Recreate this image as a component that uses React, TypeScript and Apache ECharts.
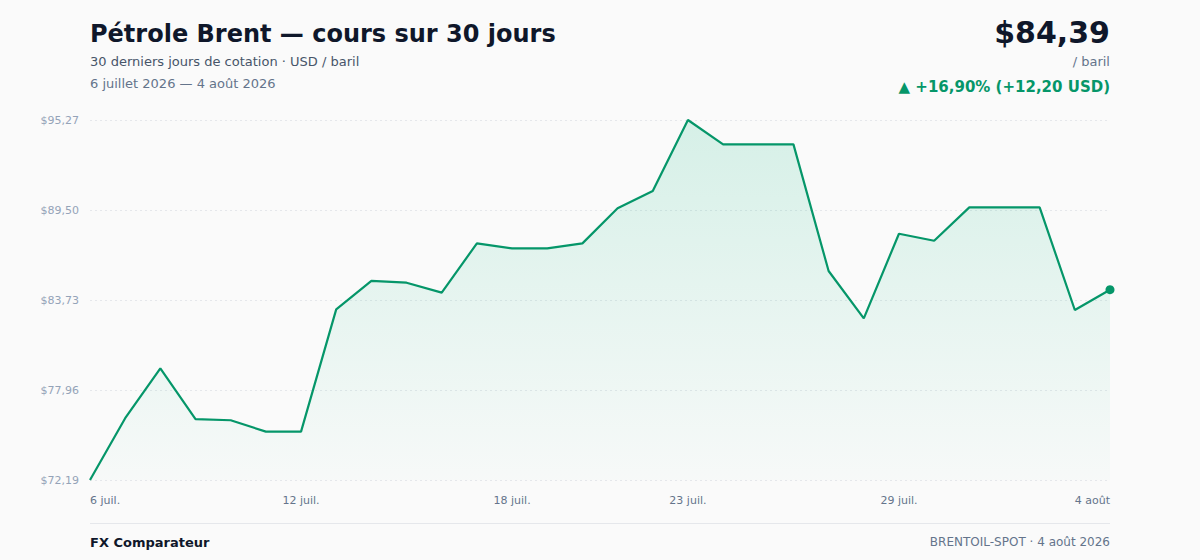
import React, { useEffect, useRef } from "react";
import * as echarts from "echarts";

const dates = [
  "6 juil.", "7 juil.", "8 juil.", "9 juil.", "10 juil.", "11 juil.", "12 juil.",
  "13 juil.", "14 juil.", "15 juil.", "16 juil.", "17 juil.", "18 juil.", "19 juil.",
  "20 juil.", "21 juil.", "22 juil.", "23 juil.", "24 juil.", "25 juil.", "26 juil.",
  "27 juil.", "28 juil.", "29 juil.", "30 juil.", "31 juil.", "1 août", "2 août",
  "3 août", "4 août",
];
const prices = [
  72.19, 76.15, 79.35, 76.09, 76.02, 75.29, 75.29, 83.13, 84.95, 84.84,
  84.2, 87.36, 87.04, 87.04, 87.36, 89.61, 90.72, 95.27, 93.71, 93.71,
  93.71, 85.59, 82.55, 87.98, 87.53, 89.67, 89.67, 89.67, 83.09, 84.39,
];
const yTicks = [72.19, 77.96, 83.73, 89.5, 95.27];
const xLabelDates = ["6 juil.", "12 juil.", "18 juil.", "23 juil.", "29 juil.", "4 août"];

const titleText = "Pétrole Brent — cours sur 30 jours";
const subtitleText = "30 derniers jours de cotation · USD / baril";
const rangeText = "6 juillet 2026 — 4 août 2026";
const priceText = "$84,39";
const unitText = "/ baril";
const changeText = "▲ +16,90% (+12,20 USD)";
const footerLeft = "FX Comparateur";
const footerRight = "BRENTOIL-SPOT · 4 août 2026";

const FONT = "'DejaVu Sans', sans-serif";
const GREEN = "#059669";
const fmtUsd = (v: number) => "$" + v.toFixed(2).replace(".", ",");

export default function App() {
  const ref = useRef<HTMLDivElement>(null);

  useEffect(() => {
    document.body.style.margin = "0";
    document.body.style.background = "#fafafa";
    if (!ref.current) return;
    const chart = echarts.init(ref.current, undefined, { renderer: "svg" });
    const last = prices.length - 1;
    const seriesData = prices.map((v, i) =>
      i === last
        ? { value: v, symbol: "circle", symbolSize: 9 }
        : { value: v, symbol: "none" }
    );
    chart.setOption({
      animation: false,
      backgroundColor: "#fafafa",
      textStyle: { fontFamily: FONT },
      grid: { left: 90, right: 90, top: 120, bottom: 80, containLabel: false },
      xAxis: {
        type: "category",
        data: dates,
        boundaryGap: false,
        axisLine: { show: false },
        axisTick: { show: false },
        splitLine: { show: false },
        axisLabel: {
          color: "#64748b",
          fontSize: 11,
          fontFamily: FONT,
          margin: 15,
          interval: (_i: number, v: string) => xLabelDates.includes(v),
          alignMinLabel: "left",
          alignMaxLabel: "right",
        },
      },
      yAxis: {
        type: "value",
        min: yTicks[0],
        max: yTicks[yTicks.length - 1],
        axisLine: { show: false },
        axisTick: { show: false, customValues: yTicks },
        axisLabel: {
          customValues: yTicks,
          color: "#94a3b8",
          fontSize: 11,
          fontFamily: FONT,
          margin: 11,
          formatter: (v: number) => fmtUsd(v),
        },
        splitLine: {
          show: true,
          lineStyle: { color: "#e5e7eb", width: 1, type: [2, 3] },
        },
      },
      series: [
        {
          type: "line",
          data: seriesData,
          showSymbol: true,
          showAllSymbol: true,
          symbol: "none",
          itemStyle: { color: GREEN },
          lineStyle: { color: GREEN, width: 2.2 },
          areaStyle: {
            color: new echarts.graphic.LinearGradient(0, 0, 0, 1, [
              { offset: 0, color: "rgba(16,185,129,0.22)" },
              { offset: 1, color: "rgba(16,185,129,0.02)" },
            ]),
          },
          z: 3,
        },
      ],
      graphic: [
        {
          type: "text", x: 90, y: 34,
          style: { text: titleText, fill: "#0f172a", font: `bold 24px ${FONT}`, textAlign: "left", textVerticalAlign: "middle" },
        },
        {
          type: "text", x: 90, y: 61,
          style: { text: subtitleText, fill: "#475569", font: `13px ${FONT}`, textAlign: "left", textVerticalAlign: "middle" },
        },
        {
          type: "text", x: 90, y: 83,
          style: { text: rangeText, fill: "#64748b", font: `13px ${FONT}`, textAlign: "left", textVerticalAlign: "middle" },
        },
        {
          type: "text", x: 1110, y: 32,
          style: { text: priceText, fill: "#0f172a", font: `bold 30px ${FONT}`, textAlign: "right", textVerticalAlign: "middle" },
        },
        {
          type: "text", x: 1110, y: 61,
          style: { text: unitText, fill: "#64748b", font: `13px ${FONT}`, textAlign: "right", textVerticalAlign: "middle" },
        },
        {
          type: "text", x: 1110, y: 87,
          style: { text: changeText, fill: GREEN, font: `bold 15px ${FONT}`, textAlign: "right", textVerticalAlign: "middle" },
        },
        {
          type: "line",
          shape: { x1: 90, y1: 523.5, x2: 1110, y2: 523.5 },
          style: { stroke: "#e5e7eb", lineWidth: 1 },
        },
        {
          type: "text", x: 90, y: 542,
          style: { text: footerLeft, fill: "#0f172a", font: `bold 13px ${FONT}`, textAlign: "left", textVerticalAlign: "middle" },
        },
        {
          type: "text", x: 1110, y: 542,
          style: { text: footerRight, fill: "#64748b", font: `12px ${FONT}`, textAlign: "right", textVerticalAlign: "middle" },
        },
      ],
    });
    return () => chart.dispose();
  }, []);

  return <div ref={ref} style={{ width: 1200, height: 560, background: "#fafafa" }} />;
}
